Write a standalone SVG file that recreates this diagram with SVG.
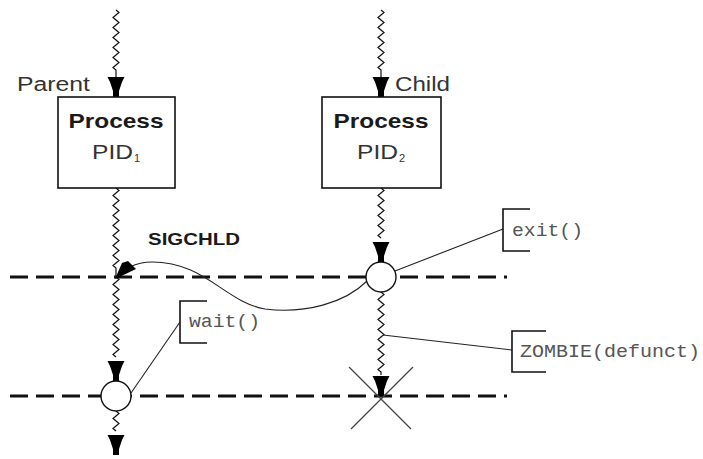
<svg xmlns="http://www.w3.org/2000/svg" width="703" height="459" viewBox="0 0 703 459">
<style>
.box{fill:#fff;stroke:#111;stroke-width:1.6}
.wave{fill:none;stroke:#111;stroke-width:1.2}
.dash{stroke:#111;stroke-width:3.2;stroke-dasharray:18 8;fill:none}
.lead{stroke:#222;stroke-width:1.1;fill:none}
.brk{stroke:#111;stroke-width:1.6;fill:none}
.bold{font-family:"Liberation Sans",Arial,sans-serif;font-weight:bold;fill:#1a1a1a}
.reg{font-family:"Liberation Sans",Arial,sans-serif;fill:#333}
.mono{font-family:"Liberation Mono","Courier New",monospace;fill:#555;font-size:18px}
.circ{fill:#fff;stroke:#111;stroke-width:1.4}
.cross{stroke:#444;stroke-width:1.2}
</style>
<defs>
<path id="ah" d="M-8.5,-20 L8.5,-20 L6,-15 L3,-6 L3,0 L-3,0 L-3,-6 L-6,-15 Z" fill="#000"/>
</defs>
<g id="timelines">
<line class="dash" x1="10" y1="277" x2="507" y2="277"/>
<line class="dash" x1="10" y1="396" x2="507" y2="396"/>
</g>
<g id="connectors">
<path class="wave" d="M116,10 l3,2.5 l-3,2.5 l-3,2.5 l3,2.5 l3,2.5 l-3,2.5 l-3,2.5 l3,2.5 l3,2.5 l-3,2.5 l-3,2.5 l3,2.5 l3,2.5 l-3,2.5 l-3,2.5 l3,2.5 l3,2.5 l-3,2.5 l-3,2.5 l3,2.5 l3,2.5 l-3,2.5 l-3,2.5 l3,2.5 l0,8"/>
<path class="wave" d="M116,188 l3,2.5 l-3,2.5 l-3,2.5 l3,2.5 l3,2.5 l-3,2.5 l-3,2.5 l3,2.5 l3,2.5 l-3,2.5 l-3,2.5 l3,2.5 l3,2.5 l-3,2.5 l-3,2.5 l3,2.5 l3,2.5 l-3,2.5 l-3,2.5 l3,2.5 l3,2.5 l-3,2.5 l-3,2.5 l3,2.5 l3,2.5 l-3,2.5 l-3,2.5 l3,2.5 l3,2.5 l-3,2.5 l-3,2.5 l3,2.5 l0,9"/>
<path class="wave" d="M116,277 l3,2.5 l-3,2.5 l-3,2.5 l3,2.5 l3,2.5 l-3,2.5 l-3,2.5 l3,2.5 l3,2.5 l-3,2.5 l-3,2.5 l3,2.5 l3,2.5 l-3,2.5 l-3,2.5 l3,2.5 l3,2.5 l-3,2.5 l-3,2.5 l3,2.5 l3,2.5 l-3,2.5 l-3,2.5 l3,2.5 l3,2.5 l-3,2.5 l-3,2.5 l3,2.5 l3,2.5 l-3,2.5 l-3,2.5 l3,2.5"/>
<path class="wave" d="M116,411 l3,2.5 l-3,2.5 l-3,2.5 l3,2.5 l3,2.5 l-3,2.5 l-3,2.5 l3,2.5 l0,0"/>
<path class="wave" d="M381,10 l3,2.5 l-3,2.5 l-3,2.5 l3,2.5 l3,2.5 l-3,2.5 l-3,2.5 l3,2.5 l3,2.5 l-3,2.5 l-3,2.5 l3,2.5 l3,2.5 l-3,2.5 l-3,2.5 l3,2.5 l3,2.5 l-3,2.5 l-3,2.5 l3,2.5 l3,2.5 l-3,2.5 l-3,2.5 l3,2.5 l0,8"/>
<path class="wave" d="M381,188 l3,2.5 l-3,2.5 l-3,2.5 l3,2.5 l3,2.5 l-3,2.5 l-3,2.5 l3,2.5 l3,2.5 l-3,2.5 l-3,2.5 l3,2.5 l3,2.5 l-3,2.5 l-3,2.5 l3,2.5 l3,2.5 l-3,2.5 l-3,2.5 l3,2.5 l0,0"/>
<path class="wave" d="M381,292 l3,2.5 l-3,2.5 l-3,2.5 l3,2.5 l3,2.5 l-3,2.5 l-3,2.5 l3,2.5 l3,2.5 l-3,2.5 l-3,2.5 l3,2.5 l3,2.5 l-3,2.5 l-3,2.5 l3,2.5 l3,2.5 l-3,2.5 l-3,2.5 l3,2.5 l3,2.5 l-3,2.5 l-3,2.5 l3,2.5 l3,2.5 l-3,2.5 l-3,2.5 l3,2.5 l3,2.5 l-3,2.5 l-3,2.5 l3,2.5 l0,3"/>
<use href="#ah" transform="translate(116,97)"/>
<use href="#ah" transform="translate(381,97)"/>
<use href="#ah" transform="translate(381,262)"/>
<use href="#ah" transform="translate(116,381)"/>
<use href="#ah" transform="translate(116,455)"/>
<use href="#ah" transform="translate(381,396)"/>
<path class="lead" d="M367,281 C345,303 305,314 265,309 C225,302 205,262 152,262 C142,262 136,264 130,267"/>
<polygon points="115,279 122,263 128,261 136,269" fill="#000"/>
<line class="lead" x1="395" y1="271" x2="503" y2="229"/>
<line class="lead" x1="383" y1="335" x2="512" y2="350"/>
<line class="lead" x1="131" y1="393" x2="180" y2="322"/>
<line class="cross" x1="349" y1="367" x2="411" y2="429"/>
<line class="cross" x1="413" y1="367" x2="351" y2="429"/>
</g>
<g id="parent">
<rect class="box" x="58" y="97" width="117" height="91"/>
<text class="bold" x="116" y="128" font-size="21" text-anchor="middle" textLength="95" lengthAdjust="spacingAndGlyphs">Process</text>
<text class="reg" x="92" y="159" font-size="20" textLength="41" lengthAdjust="spacingAndGlyphs">PID</text>
<text class="reg" x="134" y="162" font-size="11">1</text>
<text class="reg" x="17" y="91" font-size="20" textLength="73" lengthAdjust="spacingAndGlyphs">Parent</text>
</g>
<g id="child">
<rect class="box" x="322" y="97" width="119" height="91"/>
<text class="bold" x="381" y="128" font-size="21" text-anchor="middle" textLength="95" lengthAdjust="spacingAndGlyphs">Process</text>
<text class="reg" x="357" y="159" font-size="20" textLength="41" lengthAdjust="spacingAndGlyphs">PID</text>
<text class="reg" x="399" y="162" font-size="11">2</text>
<text class="reg" x="395" y="91" font-size="20" textLength="55" lengthAdjust="spacingAndGlyphs">Child</text>
</g>
<g id="parent-wait">
<circle class="circ" cx="116" cy="396" r="15"/>
</g>
<g id="child-exit">
<circle class="circ" cx="381" cy="277" r="15"/>
</g>
<g id="sigchld">
<text class="bold" x="148" y="245" font-size="17" textLength="92" lengthAdjust="spacingAndGlyphs">SIGCHLD</text>
</g>
<g id="exit-label">
<path class="brk" d="M530,209 L503,209 L503,251 L530,251"/>
<text class="mono" x="512" y="236" textLength="71" lengthAdjust="spacingAndGlyphs">exit()</text>
</g>
<g id="zombie-label">
<path class="brk" d="M546,331 L512,331 L512,372 L546,372"/>
<text class="mono" x="520" y="357" textLength="180" lengthAdjust="spacingAndGlyphs">ZOMBIE(defunct)</text>
</g>
<g id="wait-label">
<path class="brk" d="M207,301 L180,301 L180,343 L207,343"/>
<text class="mono" x="189" y="327" textLength="71" lengthAdjust="spacingAndGlyphs">wait()</text>
</g>
</svg>
